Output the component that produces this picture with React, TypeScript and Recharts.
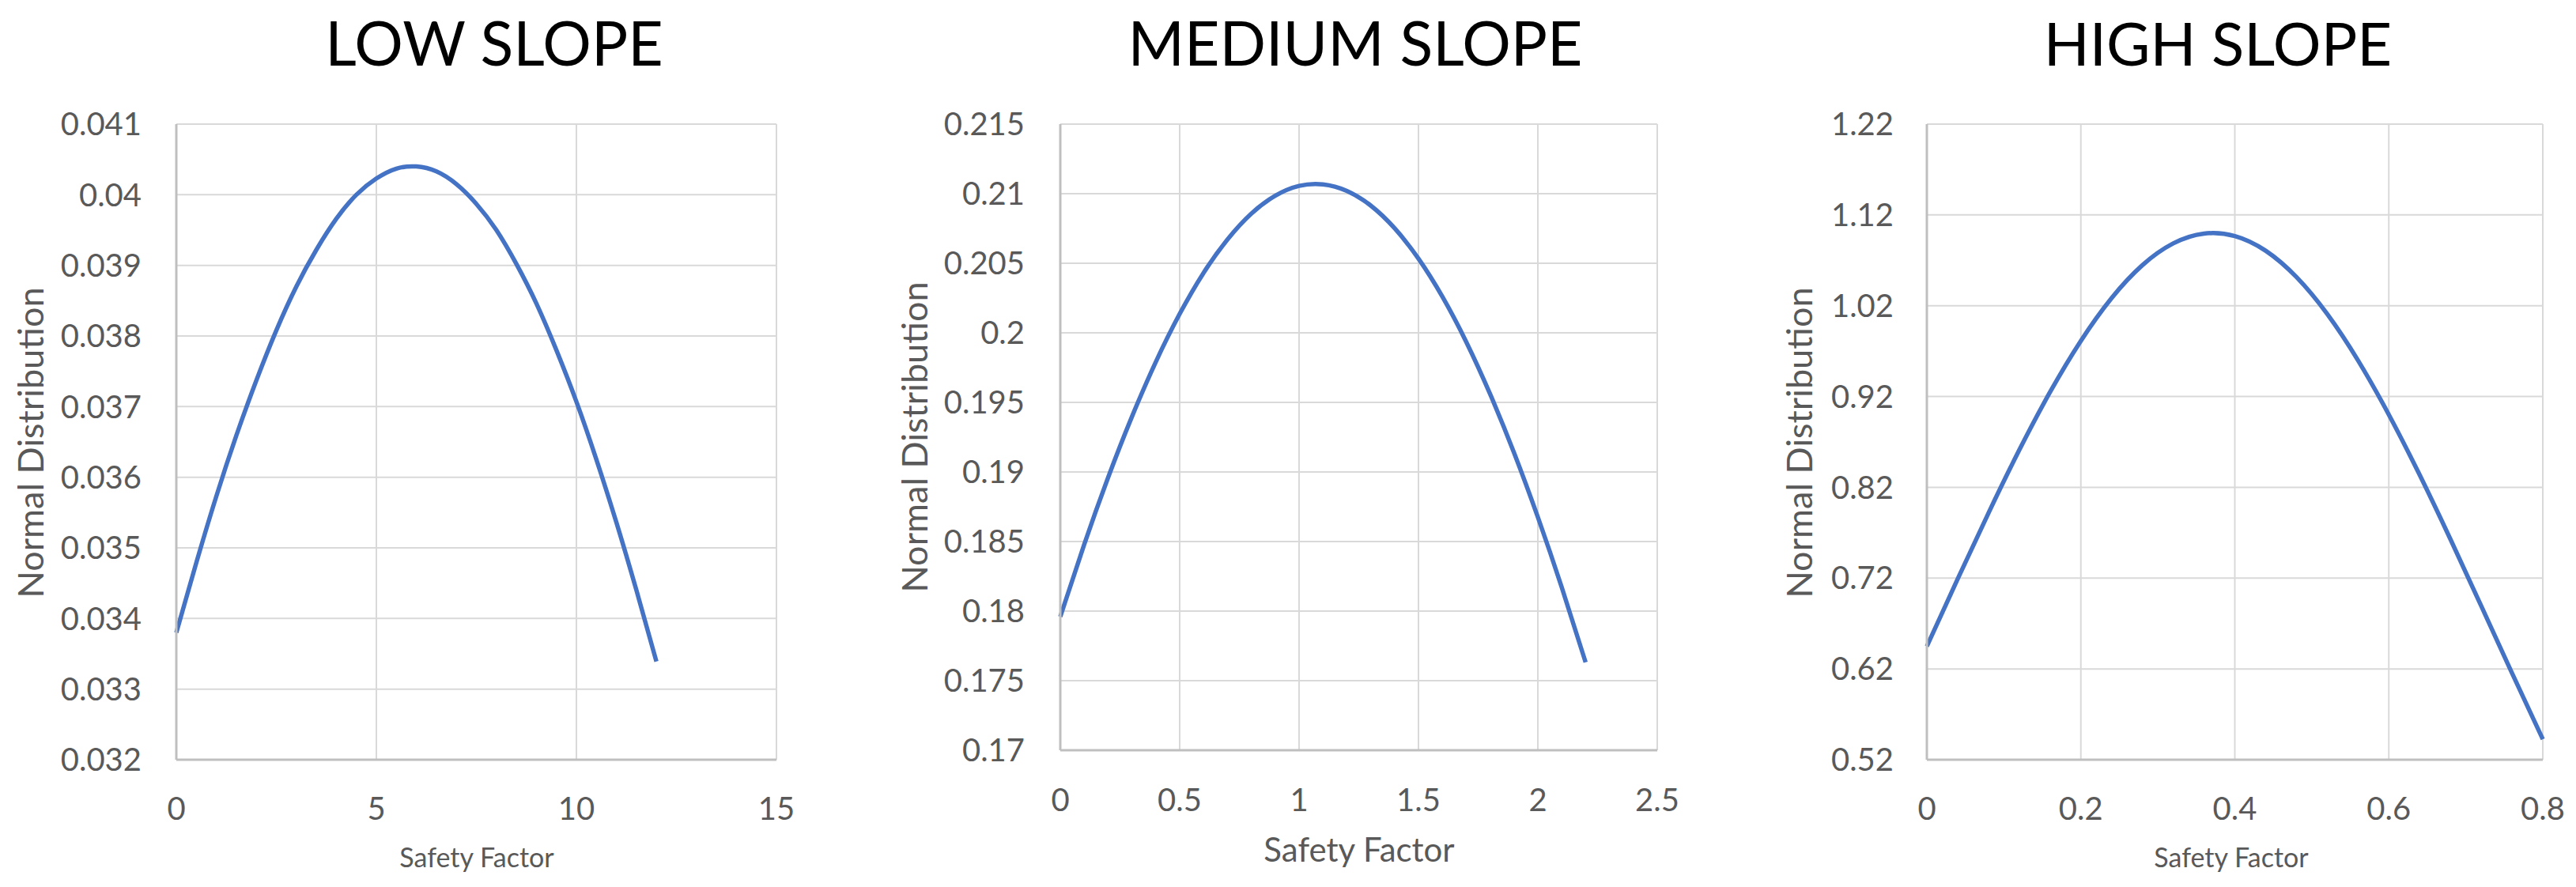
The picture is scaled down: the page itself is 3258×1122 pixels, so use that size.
import { LineChart, Line, XAxis, YAxis, CartesianGrid } from "recharts";

const FONT = "Lato, 'Open Sans', sans-serif";
const BLUE = "#4472C4";
const GREY_TEXT = "#595959";

// LOW SLOPE
const LOW_X = [0, 0.5, 1, 1.5, 2, 2.5, 3, 3.5, 4, 4.5, 5, 5.5, 6, 6.5, 7, 7.5, 8, 8.5, 9, 9.5, 10, 10.5, 11, 11.5, 12];
const LOW_Y = [
  0.0338, 0.03479, 0.03573, 0.03659, 0.03737, 0.03808, 0.0387, 0.03922, 0.03966, 0.04, 0.04023, 0.04037, 0.0404,
  0.04033, 0.04015, 0.03987, 0.0395, 0.03902, 0.03846, 0.0378, 0.03707, 0.03625, 0.03536, 0.0344, 0.03339,
];
const LOW_X_TICKS = [0, 5, 10, 15];
const LOW_Y_TICKS = [0.032, 0.033, 0.034, 0.035, 0.036, 0.037, 0.038, 0.039, 0.04, 0.041];

// MEDIUM SLOPE
const MED_X = [0, 0.1, 0.2, 0.3, 0.4, 0.5, 0.6, 0.7, 0.8, 0.9, 1, 1.1, 1.2, 1.3, 1.4, 1.5, 1.6, 1.7, 1.8, 1.9, 2, 2.1, 2.2];
const MED_Y = [
  0.1796, 0.18478, 0.18959, 0.19397, 0.19791, 0.20136, 0.20431, 0.20671, 0.20857, 0.20985, 0.21056, 0.21067,
  0.2102, 0.20915, 0.20752, 0.20533, 0.2026, 0.19935, 0.1956, 0.19139, 0.18675, 0.18171, 0.17632,
];
const MED_X_TICKS = [0, 0.5, 1, 1.5, 2, 2.5];
const MED_Y_TICKS = [0.17, 0.175, 0.18, 0.185, 0.19, 0.195, 0.2, 0.205, 0.21, 0.215];

// HIGH SLOPE
const HIGH_X = [0, 0.04, 0.08, 0.12, 0.16, 0.2, 0.24, 0.28, 0.32, 0.36, 0.4, 0.44, 0.48, 0.52, 0.56, 0.6, 0.64, 0.68, 0.72, 0.76, 0.8];
const HIGH_Y = [
  0.6449, 0.719, 0.7916, 0.861, 0.9249, 0.9813, 1.0285, 1.0647, 1.0886, 1.0994, 1.0967, 1.0806, 1.0516, 1.0109,
  0.9598, 0.9001, 0.8338, 0.7629, 0.6894, 0.6154, 0.5426,
];
const HIGH_X_TICKS = [0, 0.2, 0.4, 0.6, 0.8];
const HIGH_Y_TICKS = [0.52, 0.62, 0.72, 0.82, 0.92, 1.02, 1.12, 1.22];

const toData = (xs: number[], ys: number[]) => xs.map((x, i) => ({ x, y: ys[i] }));

const tickStyle = { fill: GREY_TEXT, fontSize: 40, fontFamily: FONT };
const axisLine = { stroke: "#BFBFBF", strokeWidth: 3 };

interface PanelProps {
  left: number;
  margin: { top: number; right: number; bottom: number; left: number };
  data: Array<{ x: number; y: number }>;
  xTicks: number[];
  yTicks: number[];
  xGap: number;
  yGap: number;
}

function Panel({ left, margin, data, xTicks, yTicks, xGap, yGap }: PanelProps) {
  return (
    <div style={{ position: "absolute", left, top: 0 }}>
      <LineChart width={1086} height={1122} data={data} margin={margin}>
        <CartesianGrid stroke="#D9D9D9" strokeWidth={2} />
        <XAxis
          dataKey="x"
          type="number"
          domain={[xTicks[0], xTicks[xTicks.length - 1]]}
          ticks={xTicks}
          interval={0}
          height={60}
          tickSize={0}
          tickMargin={xGap}
          tickLine={false}
          axisLine={axisLine}
          tick={tickStyle}
        />
        <YAxis
          type="number"
          domain={[yTicks[0], yTicks[yTicks.length - 1]]}
          ticks={yTicks}
          interval={0}
          width={120}
          tickSize={0}
          tickMargin={yGap}
          tickLine={false}
          axisLine={axisLine}
          tick={tickStyle}
        />
        <Line
          type="natural"
          dataKey="y"
          stroke={BLUE}
          strokeWidth={5.5}
          dot={false}
          isAnimationActive={false}
        />
      </LineChart>
    </div>
  );
}

export default function App() {
  return (
    <div style={{ position: "absolute", left: 0, top: 0, width: 3258, height: 1122, background: "#fff" }}>
      <Panel
        left={0}
        margin={{ top: 157, right: 104, bottom: 101, left: 103 }}
        data={toData(LOW_X, LOW_Y)}
        xTicks={LOW_X_TICKS}
        yTicks={LOW_Y_TICKS}
        xGap={48}
        yGap={44}
      />
      <Panel
        left={1086}
        margin={{ top: 157, right: 76, bottom: 113, left: 135 }}
        data={toData(MED_X, MED_Y)}
        xTicks={MED_X_TICKS}
        yTicks={MED_Y_TICKS}
        xGap={49}
        yGap={45}
      />
      <Panel
        left={2172}
        margin={{ top: 157, right: 42, bottom: 101, left: 145 }}
        data={toData(HIGH_X, HIGH_Y)}
        xTicks={HIGH_X_TICKS}
        yTicks={HIGH_Y_TICKS}
        xGap={48}
        yGap={42}
      />
      <svg
        width={3258}
        height={1122}
        style={{ position: "absolute", left: 0, top: 0, pointerEvents: "none" }}
        fontFamily={FONT}
      >
        <text x={625} y={83} textAnchor="middle" fontSize={77} fill="#000">LOW SLOPE</text>
        <text x={1714} y={83} textAnchor="middle" fontSize={77} fill="#000">MEDIUM SLOPE</text>
        <text x={2805} y={83} textAnchor="middle" fontSize={76} fill="#000">HIGH SLOPE</text>

        <text x={55} y={560} transform="rotate(-90 55 560)" textAnchor="middle" fontSize={45} fill={GREY_TEXT}>
          Normal Distribution
        </text>
        <text x={1173} y={553} transform="rotate(-90 1173 553)" textAnchor="middle" fontSize={45} fill={GREY_TEXT}>
          Normal Distribution
        </text>
        <text x={2292} y={560} transform="rotate(-90 2292 560)" textAnchor="middle" fontSize={45} fill={GREY_TEXT}>
          Normal Distribution
        </text>

        <text x={603} y={1097} textAnchor="middle" fontSize={34} fill={GREY_TEXT}>Safety Factor</text>
        <text x={1719} y={1090} textAnchor="middle" fontSize={42} fill={GREY_TEXT}>Safety Factor</text>
        <text x={2822} y={1097} textAnchor="middle" fontSize={34} fill={GREY_TEXT}>Safety Factor</text>
      </svg>
    </div>
  );
}
